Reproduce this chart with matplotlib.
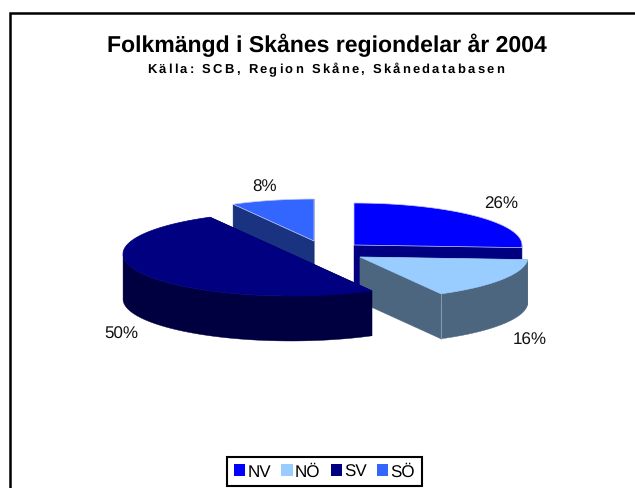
import numpy as np
import matplotlib
matplotlib.use("Agg")
import matplotlib.pyplot as plt
from matplotlib.patches import Polygon, Patch
from matplotlib.text import Text
from matplotlib.textpath import TextPath
from matplotlib.font_manager import FontProperties

# Data
categories = ["NV", "NÖ", "SV", "SÖ"]
shares = [26, 16, 50, 8]
title = "Folkmängd i Skånes regiondelar år 2004"
subtitle = "Källa: SCB, Region Skåne, Skånedatabasen"

# Style
top_colors = ["#0000FF", "#99CCFF", "#000080", "#3366FF"]
wall_colors = ["#000080", "#4D667F", "#000040", "#1A3380"]
outline = ["#C8C8FF", "none", "none", "#C8C8FF"]
centers = [(354, 246), (360, 258), (291, 255), (314, 242)]
label_nudge = [(2.5, 2.5), (2.5, 3), (3.5, 3), (0, 8)]
RX, RY, DEPTH = 168, 42, 45
LABEL_RX, LABEL_RY = 198, 65
draw_order = [3, 0, 1, 2]

plt.rcParams["font.family"] = "Liberation Sans"
plt.rcParams["text.hinting"] = "none"
plt.rcParams["text.hinting_factor"] = 1
fig = plt.figure(figsize=(6.35, 4.89), dpi=100)
ax = fig.add_axes([0, 0, 1, 1])
ax.set_xlim(0, 635)
ax.set_ylim(489, 0)
ax.axis("off")


class SpacedText(Text):
    """One text object, drawn with extra letter spacing."""
    spacing = 0.0

    def draw(self, renderer):
        s = self.get_text()
        fp = self.get_fontproperties()
        px = fig.dpi / 72.0
        x0, y0 = self.get_transform().transform(self.get_position())
        ref = TextPath((0, 0), "H", prop=fp).get_extents().x1
        for i, ch in enumerate(s):
            w = (TextPath((0, 0), s[:i] + "H", prop=fp).get_extents().x1 - ref) * px
            t = Text(x0 + w + i * self.spacing, y0, ch, fontproperties=fp,
                     color=self.get_color(), transform=None, va="baseline", ha="left")
            t.set_figure(fig)
            t.draw(renderer)


def pt(c, a, rx=RX, ry=RY):
    a = np.deg2rad(a)
    return np.array([c[0] + rx * np.cos(a), c[1] - ry * np.sin(a)])


ends = 90 - np.cumsum(shares) * 3.6
starts = np.r_[90, ends[:-1]]

for i in draw_order:
    c = centers[i]
    a0, a1 = starts[i], ends[i]
    angs = np.linspace(a0, a1, 90)
    arc = np.array([pt(c, a) for a in angs])
    down = np.array([0, DEPTH])
    z = 2 + draw_order.index(i)
    # cut faces visible to the viewer
    for a in (a0, a1):
        p = pt(c, a)
        if p[0] >= c[0] and p[1] >= c[1] or (p[0] < c[0] and p[1] < c[1]):
            quad = [c, p, p + down, np.array(c) + down]
            ax.add_patch(Polygon(quad, closed=True, fc=wall_colors[i], ec=wall_colors[i], lw=0.3, zorder=z))
    # outer wall: front half of the ellipse
    keep = arc[:, 1] >= c[1] - 0.01
    if keep.any():
        front = arc[keep]
        wall = np.vstack([front, (front + down)[::-1]])
        ax.add_patch(Polygon(wall, closed=True, fc=wall_colors[i], ec=wall_colors[i], lw=0.3, zorder=z))
    top = np.vstack([c, arc])
    ax.add_patch(Polygon(top, closed=True, fc=top_colors[i],
                         ec=top_colors[i] if outline[i] == "none" else outline[i],
                         lw=0.5, zorder=z + 0.5))

# Seam at the front corner of NÖ
p = pt(centers[1], ends[1])
ax.plot([p[0], p[0]], [p[1], p[1] + DEPTH], color="#8FA3B5", lw=0.6, zorder=4)

# Percent labels
for i, v in enumerate(shares):
    mid = (starts[i] + ends[i]) / 2
    lp = pt(centers[i], mid, LABEL_RX, LABEL_RY)
    if np.sin(np.deg2rad(mid)) < 0:
        lp = lp + np.array([0, DEPTH])
    ax.text(lp[0] + label_nudge[i][0], lp[1] + label_nudge[i][1], f"{v}%", fontsize=12,
            color="#111111", ha="center", va="center", zorder=10)

# Frame (top and left only)
ax.plot([10.4, 10.4, 635], [489, 13.5, 13.5], color="black", lw=1.8,
        solid_joinstyle="miter", clip_on=False, zorder=1)

# Titles
ax.text(327, 52, title, fontsize=16.6, fontweight="bold", ha="center", va="baseline", zorder=10)
fp = FontProperties(family="Liberation Sans", weight="bold", size=9)
st = SpacedText(147, 73, subtitle, fontproperties=fp, color="black", transform=ax.transData)
st.spacing = 2.5
ax.add_artist(st)

# Legend
handles = [Patch(fc=col, ec="none") for col in top_colors]
leg = ax.legend(handles, categories, ncol=4, loc="center",
                bbox_to_anchor=(324.5, 472.5), bbox_transform=ax.transData,
                fontsize=12, frameon=True, fancybox=False, edgecolor="black", framealpha=1,
                handlelength=0.68, handleheight=0.68, handletextpad=0.12,
                columnspacing=0.62, borderpad=0.42, borderaxespad=0)
leg.get_frame().set_linewidth(1.5)
leg.set_zorder(11)

fig.savefig("out.png", dpi=100, facecolor="white")
